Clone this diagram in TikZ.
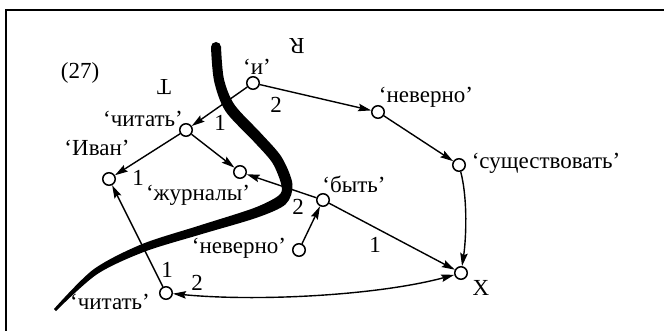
\documentclass[tikz,border=0pt]{standalone}
\usepackage{fontspec}
\setmainfont{Liberation Serif}
\usetikzlibrary{arrows.meta}
\begin{document}
\begin{tikzpicture}[x=1pt,y=-1pt,
  vert/.style={circle,draw,fill=white,inner sep=0pt,minimum size=12.5pt,line width=1.5pt},
  lbl/.style={font=\fontsize{23}{27}\selectfont,inner sep=0pt},
  tip/.tip={Stealth[length=13pt,width=7.5pt,inset=2pt]},
  arr/.style={line width=1.4pt,-tip},
  darr/.style={line width=1.4pt,tip-tip}]
\useasboundingbox (0,0) rectangle (664,331);
\draw[line width=1.6pt] (6,331) -- (6,10) -- (664,10);

% vertices
\node[vert] (i) at (253,83) {};
\node[vert] (chit) at (186,130) {};
\node[vert] (ivan) at (109,179) {};
\node[vert] (zhur) at (240,172) {};
\node[vert] (byt) at (323,200) {};
\node[vert] (nevb) at (299,250) {};
\node[vert] (chitb) at (166,293) {};
\node[vert] (X) at (461,273) {};
\node[vert] (nevt) at (378,112) {};
\node[vert] (sush) at (459,165) {};

% labels
\node[lbl] (n27) at (80,73) {(27)};
\node[lbl,rotate=180] (R) at (297,46) {R};
\node[lbl,rotate=180] (T) at (164,87) {T};
\node[lbl] (li) at (257,67) {‘и’};
\node[lbl] (lchit) at (143,119) {‘читать’};
\node[lbl] (livan) at (97,148) {‘Иван’};
\node[lbl] (lzhur) at (198,195) {‘журналы’};
\node[lbl] (lbyt) at (354,184) {‘быть’};
\node[lbl] (lnevb) at (239,248) {‘неверно’};
\node[lbl] (lchitb) at (110,302) {‘читать’};
\node[lbl] (lX) at (481,288) {X};
\node[lbl] (lnevt) at (426,97) {‘неверно’};
\node[lbl] (lsush) at (546,163) {‘существовать’};
\node[lbl] (e1) at (220,123) {1};
\node[lbl] (e2) at (276,105) {2};
\node[lbl] (e3) at (138,178) {1};
\node[lbl] (e4) at (298,207) {2};
\node[lbl] (e5) at (375,245) {1};
\node[lbl] (e6) at (167,270) {1};
\node[lbl] (e7) at (197,283) {2};

% edges
\draw[arr] (i) -- (chit);
\draw[arr] (i) -- (nevt);
\draw[arr] (nevt) -- (sush);
\draw[arr] (sush) .. controls (468,200) and (466,240) .. (X);
\draw[arr] (chit) -- (ivan);
\draw[arr] (chit) -- (zhur);
\draw[arr] (byt) -- (zhur);
\draw[arr] (byt) -- (X);
\draw[arr] (nevb) -- (byt);
\draw[arr] (chitb) -- (ivan);
\draw[darr] (chitb) .. controls (260,302) and (380,295) .. (X);

% thick boundary curve
\fill[black] plot[smooth] coordinates {(211,47.4) (214.1,81.1) (225.4,111.1) (253,140.7) (272.4,162.9) (281.5,185.7) (278.3,195.8) (253.2,208.3) (198.6,225.8) (141.5,244.3) (93.2,269.6) (54,309)}
  -- plot[smooth] coordinates {(56,311) (96.8,274.4) (144.5,251.7) (201.4,234.2) (256.8,217.7) (285.7,204.2) (292.5,184.3) (281.6,157.1) (261,133.3) (234.6,104.9) (223.9,78.9) (221,46.6)} -- cycle;
\fill[black] (216,47) circle (5);
\end{tikzpicture}
\end{document}
